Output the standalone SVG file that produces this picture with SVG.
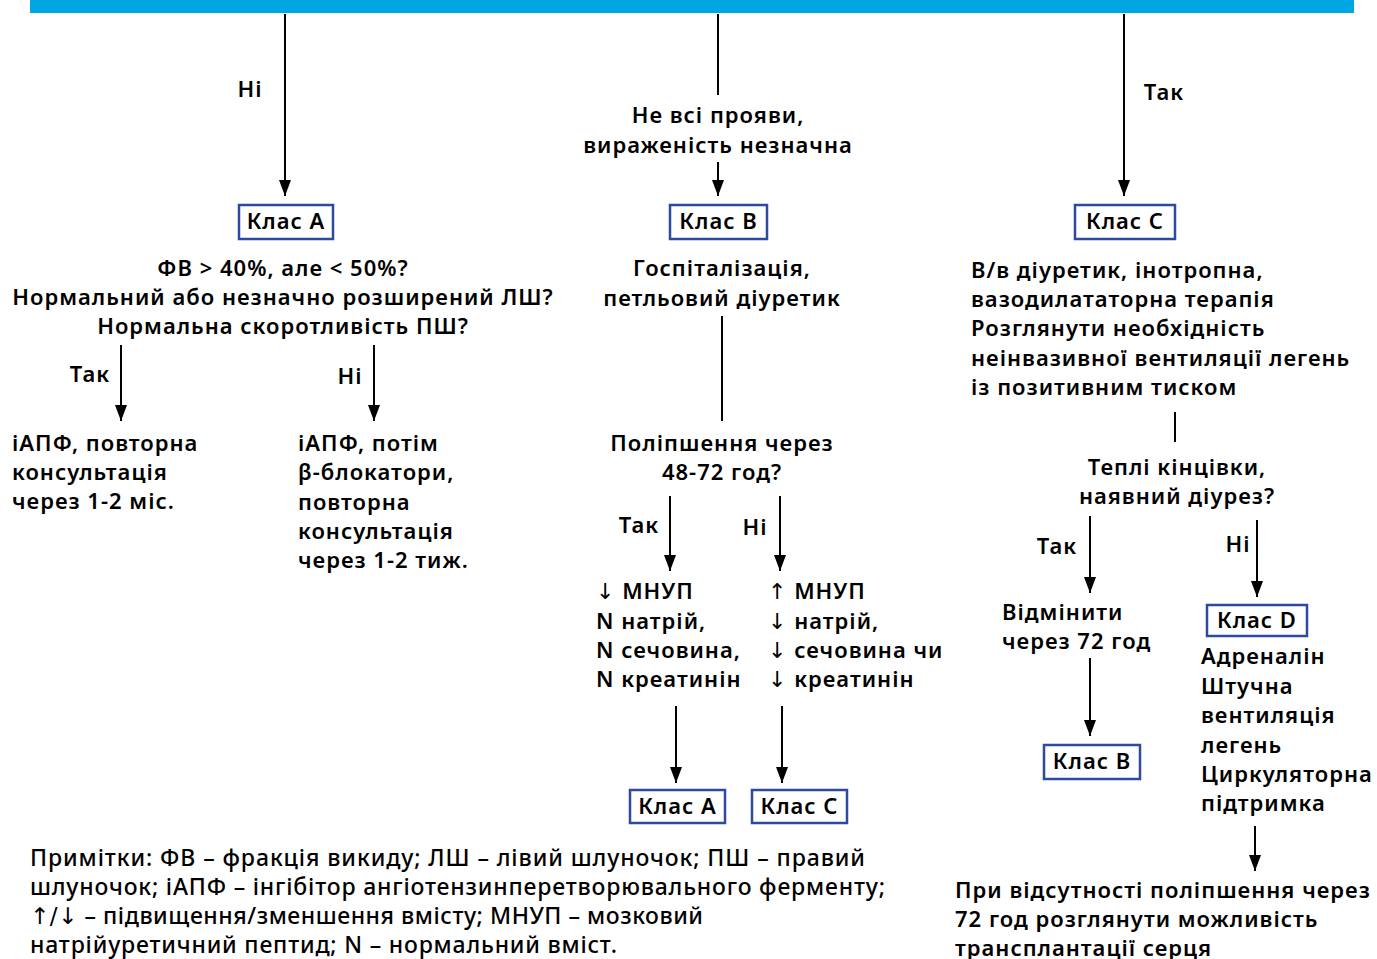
<svg xmlns="http://www.w3.org/2000/svg" width="1377" height="959" viewBox="0 0 1377 959">
<style>
  .t { font-family: "Noto Sans", "Open Sans", sans-serif; font-size: 22px; font-weight: 600; fill: #000; letter-spacing: 1px; }
  .c { text-anchor: middle; }
  .n { font-family: "Noto Sans", "Open Sans", sans-serif; font-size: 23px; font-weight: 500; fill: #000; }
  .arw { font-family: "DejaVu Sans", sans-serif; font-weight: normal; }
  .box { fill: #fff; stroke: #2E4A9E; stroke-width: 2.5; }
  .ln { stroke: #000; stroke-width: 2; fill: none; }
  .ar { stroke: #000; stroke-width: 2; fill: none; marker-end: url(#ah); }
</style>
<defs>
  <marker id="ah" viewBox="0 0 16 12" refX="16" refY="6" markerWidth="16" markerHeight="12" markerUnits="userSpaceOnUse" orient="auto">
    <path d="M0,0 L16,6 L0,12 Z" fill="#000"/>
  </marker>
</defs>
<rect x="0" y="0" width="1377" height="959" fill="#fff"/>
<rect id="topbar" x="30" y="0" width="1324" height="13" fill="#00A6E2"/>

<g id="connectors">
  <line class="ar" x1="285" y1="14" x2="285" y2="196"/>
  <line class="ln" x1="718" y1="14" x2="718" y2="95"/>
  <line class="ar" x1="718" y1="162" x2="718" y2="196"/>
  <line class="ar" x1="1124" y1="14" x2="1124" y2="196"/>
  <line class="ar" x1="121" y1="345" x2="121" y2="421"/>
  <line class="ar" x1="374" y1="345" x2="374" y2="421"/>
  <line class="ln" x1="722" y1="316" x2="722" y2="421"/>
  <line class="ar" x1="670" y1="496" x2="670" y2="571"/>
  <line class="ar" x1="780" y1="496" x2="780" y2="571"/>
  <line class="ar" x1="676" y1="706" x2="676" y2="783"/>
  <line class="ar" x1="782" y1="706" x2="782" y2="783"/>
  <line class="ln" x1="1175" y1="412" x2="1175" y2="442"/>
  <line class="ar" x1="1090" y1="516" x2="1090" y2="593"/>
  <line class="ar" x1="1257" y1="520" x2="1257" y2="597"/>
  <line class="ar" x1="1090" y1="658" x2="1090" y2="736"/>
  <line class="ar" x1="1255" y1="826" x2="1255" y2="871"/>
  <text class="t c" x="250" y="97">Ні</text>
  <text class="t c" x="1164" y="100">Так</text>
  <text class="t c" x="90" y="382">Так</text>
  <text class="t c" x="350" y="384">Ні</text>
  <text class="t c" x="639" y="533">Так</text>
  <text class="t c" x="755" y="535">Ні</text>
  <text class="t c" x="1057" y="554">Так</text>
  <text class="t c" x="1238" y="552">Ні</text>
</g>

<g id="cond-b">
  <text class="t c" x="718" y="123">Не всі прояви,</text>
  <text class="t c" x="718" y="153">вираженість незначна</text>
</g>

<g id="class-a-top">
  <rect class="box" x="239" y="205" width="94" height="34"/>
  <text class="t c" x="286" y="229">Клас А</text>
</g>
<g id="class-b-top">
  <rect class="box" x="670" y="205" width="97" height="34"/>
  <text class="t c" x="718.5" y="229">Клас В</text>
</g>
<g id="class-c-top">
  <rect class="box" x="1075" y="205" width="100" height="34"/>
  <text class="t c" x="1125" y="229">Клас С</text>
</g>

<g id="a-question">
  <text class="t c" x="283" y="276">ФВ &gt; 40%, але &lt; 50%?</text>
  <text class="t c" x="283" y="305">Нормальний або незначно розширений ЛШ?</text>
  <text class="t c" x="283" y="334">Нормальна скоротливість ПШ?</text>
</g>
<g id="a-yes">
  <text class="t" x="12" y="451">іАПФ, повторна</text>
  <text class="t" x="12" y="480">консультація</text>
  <text class="t" x="12" y="509">через 1-2 міс.</text>
</g>
<g id="a-no">
  <text class="t" x="298" y="451">іАПФ, потім</text>
  <text class="t" x="298" y="480">β-блокатори,</text>
  <text class="t" x="298" y="510">повторна</text>
  <text class="t" x="298" y="539">консультація</text>
  <text class="t" x="298" y="568">через 1-2 тиж.</text>
</g>

<g id="b-treatment">
  <text class="t c" x="722" y="276">Госпіталізація,</text>
  <text class="t c" x="722" y="306">петльовий діуретик</text>
</g>
<g id="b-question">
  <text class="t c" x="722" y="451">Поліпшення через</text>
  <text class="t c" x="722" y="480">48-72 год?</text>
</g>
<g id="b-yes">
  <text class="t" x="596" y="599"><tspan class="arw">↓</tspan> МНУП</text>
  <text class="t" x="596" y="629">N натрій,</text>
  <text class="t" x="596" y="658">N сечовина,</text>
  <text class="t" x="596" y="687">N креатинін</text>
</g>
<g id="b-no">
  <text class="t" x="768" y="599"><tspan class="arw">↑</tspan> МНУП</text>
  <text class="t" x="768" y="629"><tspan class="arw">↓</tspan> натрій,</text>
  <text class="t" x="768" y="658"><tspan class="arw">↓</tspan> сечовина чи</text>
  <text class="t" x="768" y="687"><tspan class="arw">↓</tspan> креатинін</text>
</g>
<g id="class-a-bottom">
  <rect class="box" x="630" y="790" width="95" height="33"/>
  <text class="t c" x="677.5" y="814">Клас А</text>
</g>
<g id="class-c-bottom">
  <rect class="box" x="752" y="790" width="95" height="33"/>
  <text class="t c" x="799.5" y="814">Клас С</text>
</g>

<g id="c-treatment">
  <text class="t" x="971" y="278">В/в діуретик, інотропна,</text>
  <text class="t" x="971" y="307">вазодилататорна терапія</text>
  <text class="t" x="971" y="336">Розглянути необхідність</text>
  <text class="t" x="971" y="366">неінвазивної вентиляції легень</text>
  <text class="t" x="971" y="395">із позитивним тиском</text>
</g>
<g id="c-question">
  <text class="t c" x="1177" y="475">Теплі кінцівки,</text>
  <text class="t c" x="1177" y="504">наявний діурез?</text>
</g>
<g id="c-yes">
  <text class="t" x="1002" y="620">Відмінити</text>
  <text class="t" x="1002" y="649">через 72 год</text>
</g>
<g id="class-b-right">
  <rect class="box" x="1044" y="745" width="96" height="34"/>
  <text class="t c" x="1092" y="769">Клас В</text>
</g>
<g id="class-d">
  <rect class="box" x="1207" y="605" width="100" height="31"/>
  <text class="t c" x="1257" y="628">Клас D</text>
</g>
<g id="d-treatment">
  <text class="t" x="1201" y="664">Адреналін</text>
  <text class="t" x="1201" y="694">Штучна</text>
  <text class="t" x="1201" y="723">вентиляція</text>
  <text class="t" x="1201" y="753">легень</text>
  <text class="t" x="1201" y="782">Циркуляторна</text>
  <text class="t" x="1201" y="811">підтримка</text>
</g>
<g id="transplant">
  <text class="t" x="955" y="898">При відсутності поліпшення через</text>
  <text class="t" x="955" y="927">72 год розглянути можливість</text>
  <text class="t" x="955" y="956">трансплантації серця</text>
</g>

<g id="notes">
  <text class="n" x="30" y="866" textLength="835" lengthAdjust="spacing">Примітки: ФВ – фракція викиду; ЛШ – лівий шлуночок; ПШ – правий</text>
  <text class="n" x="30" y="895" textLength="855" lengthAdjust="spacing">шлуночок; іАПФ – інгібітор ангіотензинперетворювального ферменту;</text>
  <text class="n" x="30" y="924" textLength="673" lengthAdjust="spacing"><tspan class="arw">↑/↓</tspan> – підвищення/зменшення вмісту; МНУП – мозковий</text>
  <text class="n" x="30" y="953" textLength="587" lengthAdjust="spacing">натрійуретичний пептид; N – нормальний вміст.</text>
</g>
</svg>
